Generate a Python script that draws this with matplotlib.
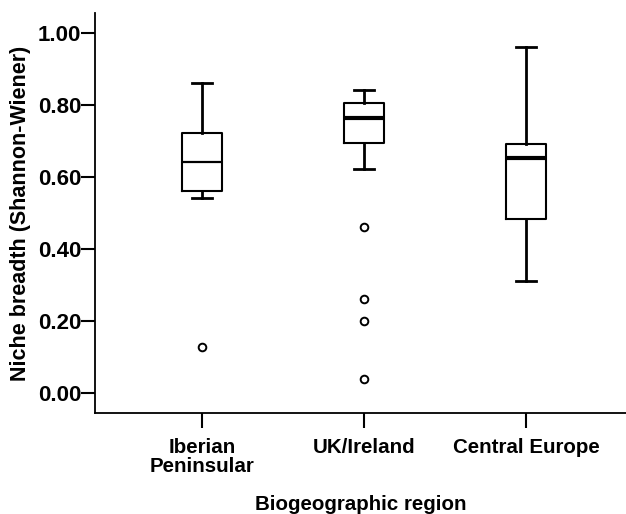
import matplotlib.pyplot as plt

############################################
# DATA
############################################

regions = ["Iberian\nPeninsular", "UK/Ireland", "Central Europe"]

whisker_low = [0.542, 0.622, 0.311]
q1 = [0.561, 0.695, 0.483]
medians = [0.642, 0.763, 0.653]
q3 = [0.722, 0.805, 0.692]
whisker_high = [0.861, 0.842, 0.961]

outliers = [
    [0.128],
    [0.461, 0.261, 0.200, 0.039],
    [],
]

yticks = [0.0, 0.2, 0.4, 0.6, 0.8, 1.0]

############################################
# PLOT
############################################

plt.rcParams['font.family'] = ['Liberation Sans', 'DejaVu Sans']
plt.rcParams['font.weight'] = 'bold'

stats = []
for i in range(len(regions)):
    stats.append({
        "whislo": whisker_low[i],
        "q1": q1[i],
        "med": medians[i],
        "q3": q3[i],
        "whishi": whisker_high[i],
        "fliers": outliers[i],
    })

fig = plt.figure(figsize=(6.26, 5.14), dpi=100)
ax = fig.add_axes([0.1518, 0.1965, 0.8482, 0.7782])

positions = [1, 2, 3]
bp = ax.bxp(stats, positions=positions, widths=0.25, showfliers=True,
            boxprops=dict(color="black", linewidth=1.5),
            whiskerprops=dict(color="black", linewidth=2.0),
            capprops=dict(color="black", linewidth=2.0),
            medianprops=dict(color="black", linewidth=3.0),
            flierprops=dict(marker="o", markerfacecolor="white",
                            markeredgecolor="black", markersize=5.5,
                            markeredgewidth=1.4))

# first median is drawn thinner in the original
bp["medians"][0].set_linewidth(1.6)

ax.set_xlim(0.34, 3.617)
ax.set_ylim(-0.0556, 1.0556)

ax.set_yticks(yticks)
ax.set_yticklabels([f"{v:.2f}" for v in yticks], fontsize=16, fontweight="bold")
ax.set_xticks(positions)
ax.set_xticklabels(regions, fontsize=14.8, fontweight="bold", linespacing=1.0)

ax.tick_params(axis="y", direction="out", length=10, width=1.5, pad=0)
ax.tick_params(axis="x", direction="out", length=11, width=1.5, pad=7)

ax.spines["top"].set_visible(False)
ax.spines["right"].set_visible(False)
ax.spines["left"].set_linewidth(1.3)
ax.spines["bottom"].set_linewidth(1.3)

ax.set_xlabel("Biogeographic region", fontsize=14.8, fontweight="bold", labelpad=14)
ax.set_ylabel("Niche breadth (Shannon-Wiener)", fontsize=15.5, fontweight="bold", labelpad=5)

fig.savefig("out.png", dpi=100)
plt.close(fig)
